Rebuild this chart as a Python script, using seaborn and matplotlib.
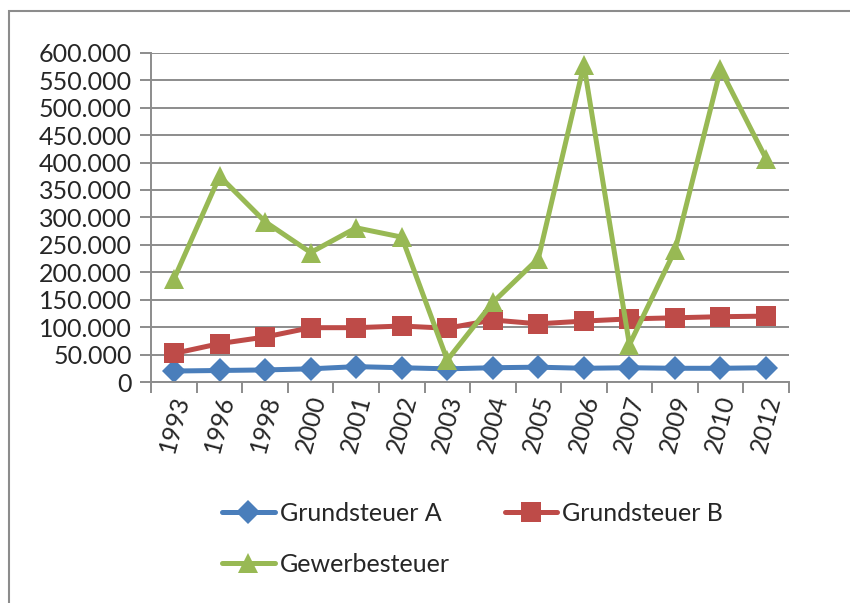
import matplotlib
matplotlib.use('Agg')
import matplotlib.pyplot as plt
import matplotlib.ticker as mticker
from matplotlib.patches import Rectangle
import seaborn as sns

# Values
years = ['1993', '1996', '1998', '2000', '2001', '2002', '2003',
         '2004', '2005', '2006', '2007', '2009', '2010', '2012']
grundsteuer_a = [20000, 21000, 22000, 24000, 28000, 26000, 24000,
                 26000, 27000, 25000, 26000, 25000, 25000, 26000]
grundsteuer_b = [52000, 70000, 82000, 99000, 99000, 102000, 98000,
                 113000, 106000, 111000, 115000, 117000, 119000, 120000]
gewerbesteuer = [188000, 375000, 292000, 236000, 281000, 264000, 40000,
                 145000, 225000, 578000, 68000, 240000, 570000, 407000]

series_names = ['Grundsteuer A', 'Grundsteuer B', 'Gewerbesteuer']
series_values = [grundsteuer_a, grundsteuer_b, gewerbesteuer]
colors = ['#4A7EBB', '#BE4B48', '#98B954']
markers = ['D', 's', '^']
msizes = [12, 14, 15]

sns.set_theme(style='white')
plt.rcParams['font.family'] = ['Lato', 'DejaVu Sans']

fig = plt.figure(figsize=(8.5, 6.03), dpi=100)
ax = fig.add_axes([0.178, 0.3665, 0.75, 0.546])

x = list(range(len(years)))
for name, vals, c, m, ms in zip(series_names, series_values, colors, markers, msizes):
    sns.lineplot(x=x, y=vals, ax=ax, color=c, linewidth=3.6, marker=m,
                 markersize=ms, markeredgewidth=0, label=name)

ax.set_xlim(-0.5, len(years) - 0.5)
ax.set_ylim(0, 600000)
ax.yaxis.set_major_locator(mticker.MultipleLocator(50000))
ax.yaxis.set_major_formatter(mticker.FuncFormatter(
    lambda v, p: f'{v:,.0f}'.replace(',', '.')))
ax.grid(True, axis='y', color='#8c8c8c', linewidth=1.4)
ax.grid(False, axis='x')

ax.set_xticks(x)
ax.set_xticklabels(years, rotation=75, ha='center', fontsize=18)
ax.set_xticks([i - 0.5 for i in range(len(years) + 1)], minor=True)
ax.tick_params(axis='x', which='major', length=0, pad=8)
ax.tick_params(axis='x', which='minor', length=8, width=1.4, color='#8c8c8c',
               direction='out', bottom=True)
ax.tick_params(axis='y', length=8, width=1.4, color='#8c8c8c', direction='out',
               left=True, labelsize=18, pad=6)
for s in ['top', 'right']:
    ax.spines[s].set_visible(False)
for s in ['left', 'bottom']:
    ax.spines[s].set_color('#8c8c8c')
    ax.spines[s].set_linewidth(1.4)
ax.set_xlabel('')
ax.set_ylabel('')

# legend fills row-wise in the reference: A, B on top, Gewerbe below
h, l = ax.get_legend_handles_labels()
order = [0, 2, 1]
ax.legend([h[i] for i in order], [l[i] for i in order],
          loc='upper left', bbox_to_anchor=(0.111, -0.365), ncol=2, frameon=False,
          fontsize=18, handlelength=2.1, columnspacing=2.2, labelspacing=1.1,
          handletextpad=0.2, borderaxespad=0, borderpad=0)

# outer chart border (runs off the image to the right and bottom)
fig.patches.append(Rectangle((8.5 / 850, -0.1), 1.2, 1 - 11 / 603 + 0.1,
                             transform=fig.transFigure, fill=False,
                             edgecolor='#8c8c8c', linewidth=1.5))

fig.savefig('out.png', dpi=100, facecolor='white')
